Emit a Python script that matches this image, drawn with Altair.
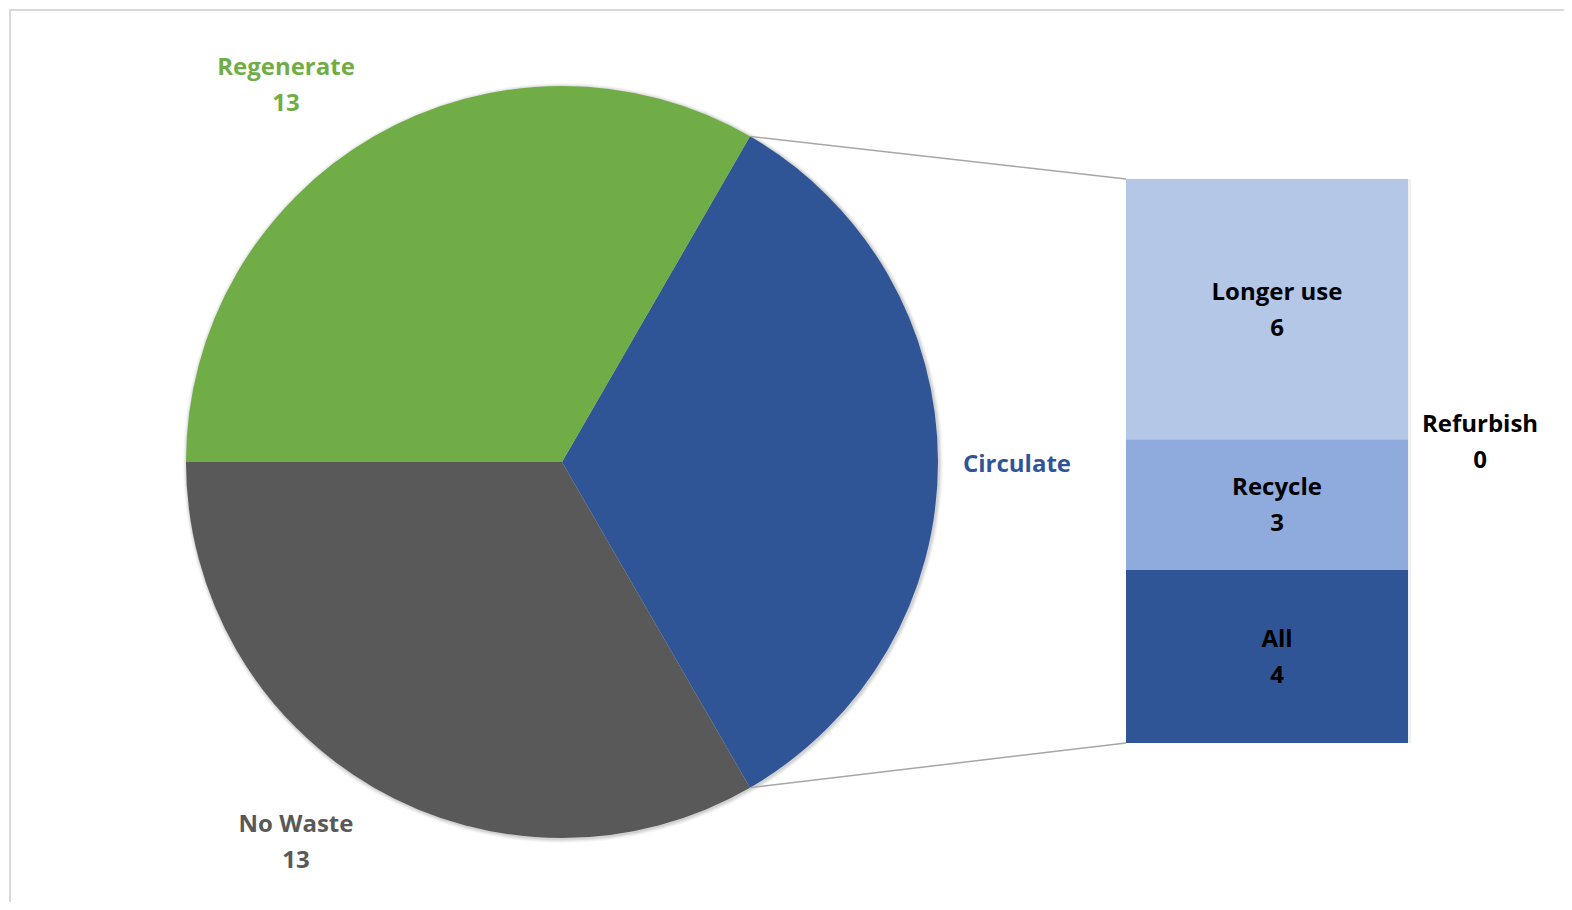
import math
import altair as alt
import pandas as pd

# ---- data ----
pie_names = ["Circulate", "No Waste", "Regenerate"]
pie_values = [13, 13, 13]
pie_show_value = [False, True, True]

bar_names = ["All", "Recycle", "Refurbish", "Longer use"]
bar_values = [4, 3, 0, 6]

# ---- styles / layout ----
pie_colors = ["#2F5597", "#595959", "#70AD47"]
bar_colors = ["#2F5597", "#8FAADC", "#8FAADC", "#B4C7E7"]
W, H = 1556, 894
CX, CY, R = 553, 453, 376
BAR_X0, BAR_X1 = 1117, 1399
BAR_TOP, BAR_BOTTOM = 170, 734
FONT = "Open Sans"
FS = 24
LH = 36
pie_label_pos = {"Circulate": (1008, 456), "No Waste": (287, 834), "Regenerate": (277, 77)}

pie_df = pd.DataFrame({"name": pie_names, "value": pie_values,
                       "order": list(range(len(pie_names))),
                       "showv": pie_show_value})
bar_df = pd.DataFrame({"name": bar_names, "value": bar_values,
                       "order": list(range(len(bar_names)))})

total = sum(pie_values)
circ = pie_values[pie_names.index("Circulate")]
a0 = math.pi / 2 - math.pi * circ / total
a1 = a0 + 2 * math.pi * circ / total
theta_scale = alt.Scale(domain=[0, total], range=[a0, a0 + 2 * math.pi])

# shadow halo
shadows = []
for dr, op in [(4, 0.03), (3, 0.04), (2, 0.05), (1, 0.06)]:
    shadows.append(
        alt.Chart(pie_df).mark_arc(radius=R + dr, color="#000000", opacity=op).encode(
            theta=alt.Theta("value:Q", stack=True, scale=theta_scale),
            order=alt.Order("order:Q"),
            x=alt.value(CX + 1), y=alt.value(CY + 1),
        )
    )

pie = alt.Chart(pie_df).mark_arc(radius=R).encode(
    theta=alt.Theta("value:Q", stack=True, scale=theta_scale),
    order=alt.Order("order:Q"),
    color=alt.Color("name:N", scale=alt.Scale(domain=pie_names, range=pie_colors), legend=None),
    x=alt.value(CX), y=alt.value(CY),
)

yscale = alt.Scale(domain=[0, sum(bar_values)], range=[BAR_BOTTOM, BAR_TOP])
bar_base = alt.Chart(bar_df).transform_stack(
    stack="value", groupby=[], as_=["v0", "v1"],
    sort=[alt.SortField("order", order="ascending")],
).transform_calculate(
    mid="(datum.v0 + datum.v1) / 2",
    label="datum.name + '\\n' + datum.value",
)

bar_shadow = bar_base.transform_filter("datum.value > 0").mark_rect(color="#000000", opacity=0.06).encode(
    x=alt.value(BAR_X0 + 1), x2=alt.value(BAR_X1 + 3),
    y=alt.Y("v0:Q", scale=yscale, axis=None), y2="v1:Q",
)

bars = bar_base.mark_rect().encode(
    x=alt.value(BAR_X0), x2=alt.value(BAR_X1),
    y=alt.Y("v0:Q", scale=yscale, axis=None), y2="v1:Q",
    color=alt.Color("name:N", scale=alt.Scale(domain=bar_names, range=bar_colors), legend=None),
)

text_style = dict(font=FONT, fontSize=FS, fontWeight="bold", lineBreak="\n",
                  lineHeight=LH, align="center", baseline="middle")

bar_labels = bar_base.transform_filter("datum.value > 0").mark_text(
    color="#000000", dy=-LH / 2 + 2, **text_style).encode(
    x=alt.value((BAR_X0 + BAR_X1) / 2 + 10),
    y=alt.Y("mid:Q", scale=yscale, axis=None),
    text="label:N",
)
zero_labels = bar_base.transform_filter("datum.value == 0").mark_text(
    color="#000000", dy=-LH / 2 + 4, **text_style).encode(
    x=alt.value(BAR_X1 + 72),
    y=alt.Y("mid:Q", scale=yscale, axis=None),
    text="label:N",
)

pie_labels = []
for name, col, sv in zip(pie_names, pie_colors, pie_show_value):
    px, py = pie_label_pos[name]
    pie_labels.append(
        alt.Chart(pie_df).transform_filter(alt.datum.name == name).transform_calculate(
            label="datum.showv ? datum.name + '\\n' + datum.value : datum.name"
        ).mark_text(color=col, dy=(-LH / 2 if sv else 0), **text_style).encode(
            x=alt.value(px), y=alt.value(py), text="label:N"
        )
    )

one = pd.DataFrame({"k": [0]})
connectors = [
    alt.Chart(one).mark_rule(color="#A6A6A6", strokeWidth=1.5).encode(
        x=alt.value(CX + R * math.sin(a0)), y=alt.value(CY - R * math.cos(a0)),
        x2=alt.value(BAR_X0), y2=alt.value(BAR_TOP),
    ),
    alt.Chart(one).mark_rule(color="#A6A6A6", strokeWidth=1.5).encode(
        x=alt.value(CX + R * math.sin(a1)), y=alt.value(CY - R * math.cos(a1)),
        x2=alt.value(BAR_X0), y2=alt.value(BAR_BOTTOM),
    ),
]

border = [
    alt.Chart(one).mark_rule(color="#D9D9D9", strokeWidth=2).encode(
        x=alt.value(0), x2=alt.value(W), y=alt.value(1), y2=alt.value(1)),
    alt.Chart(one).mark_rule(color="#D9D9D9", strokeWidth=2).encode(
        x=alt.value(1), x2=alt.value(1), y=alt.value(0), y2=alt.value(H)),
]

chart = alt.layer(
    *border, *shadows, pie, *connectors, bar_shadow, bars, bar_labels, zero_labels, *pie_labels
).resolve_scale(color="independent").properties(
    width=W, height=H, padding=0,
    autosize=alt.AutoSizeParams(type="fit", contains="padding"),
).configure_view(stroke=None)

chart.save("out.html", embed_options={"renderer": "svg", "actions": False})
